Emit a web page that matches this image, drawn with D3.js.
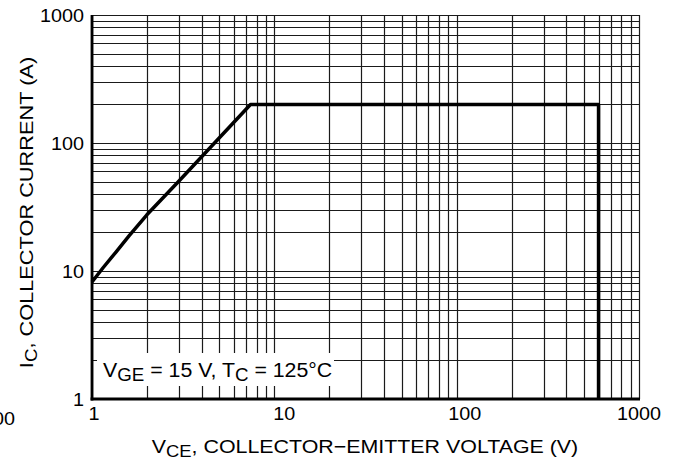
<!DOCTYPE html>
<html><head><meta charset="utf-8">
<script src="https://cdn.jsdelivr.net/npm/d3@7"></script>
<style>body{margin:0;background:#fff}svg{display:block}text{font-family:"Liberation Sans",Arial,sans-serif;fill:#000}</style>
</head><body><svg id="c" width="674" height="464"></svg>
<script>
const xTickValues = [1, 10, 100, 1000];
const yTickValues = [1, 10, 100, 1000];
const curveV = [1, 1.15, 1.35, 1.6, 2, 3, 7.4, 600, 600];
const curveI = [8.2, 10.6, 14, 18.9, 27.5, 50.5, 200, 200, 1];
const xTitle = ["V", "CE", ", COLLECTOR\u2212EMITTER VOLTAGE (V)"];
const yTitle = ["I", "C", ", COLLECTOR CURRENT (A)"];
const noteText = ["V", "GE", " = 15 V, T", "C", " = 125\u00B0C"];

const svg = d3.select("#c");
const L = 92, R = 639, T = 15, B = 399;
const x = d3.scaleLog().domain([1, 1000]).range([L, R]);
const y = d3.scaleLog().domain([1, 1000]).range([B, T]);

// grid
const g = svg.append("g");
g.selectAll("line.v").data(x.ticks()).join("line")
  .attr("x1", d => Math.round(x(d)) + 0.5).attr("x2", d => Math.round(x(d)) + 0.5)
  .attr("y1", T).attr("y2", B).attr("stroke", "#1a1a1a").attr("stroke-width", 1.2);
g.selectAll("line.h").data(y.ticks()).join("line")
  .attr("y1", d => Math.round(y(d)) + 0.5).attr("y2", d => Math.round(y(d)) + 0.5)
  .attr("x1", L).attr("x2", R).attr("stroke", "#1a1a1a").attr("stroke-width", 1.2);

// helper: horizontally widened text
function wtext(px, py, sx, size, anchor) {
  return svg.append("text")
    .attr("transform", `translate(${px},${py}) scale(${sx},1)`)
    .attr("font-size", size).attr("text-anchor", anchor);
}
function addParts(el, parts, size, subSize, subIdx) {
  parts.forEach((s, i) => {
    const sub = subIdx.includes(i);
    const prevSub = subIdx.includes(i - 1);
    el.append("tspan").text(s).attr("font-size", sub ? subSize : size)
      .attr("dy", sub ? 4 : (prevSub ? -4 : 0));
  });
}

// annotation box (covers grid)
svg.append("rect").attr("x", 97).attr("y", 353).attr("width", 237).attr("height", 33).attr("fill", "#fff");
const nt = wtext(103, 377, 1.04, 20.5, "start");
addParts(nt, noteText, 20.5, 18, [1, 3]);

// axes (thick left & bottom)
svg.append("line").attr("x1", L).attr("x2", L).attr("y1", T).attr("y2", B + 1.5).attr("stroke", "#000").attr("stroke-width", 2.8);
svg.append("line").attr("x1", L - 1.4).attr("x2", R + 1).attr("y1", B).attr("y2", B).attr("stroke", "#000").attr("stroke-width", 2.8);

// curve
const line = d3.line().x((d, i) => x(curveV[i])).y((d, i) => y(curveI[i]));
svg.append("path").attr("d", line(curveV)).attr("fill", "none")
  .attr("stroke", "#000").attr("stroke-width", 3.5).attr("stroke-linejoin", "round");

// tick labels
const xDx = [2, 10, 8, 0];
xTickValues.forEach((d, i) => wtext(x(d) + xDx[i], 420, 1.1, 18, "middle").text(d));
yTickValues.forEach(d => wtext(84, y(d) + 6.5, 1.1, 18, "end").text(d));

// clipped stray label at lower left
wtext(15, 425, 1.1, 18, "end").text(xTickValues[3]);

// titles
const xt = wtext(365, 453, 1.15, 18.6, "middle");
addParts(xt, xTitle, 18.6, 16, [1]);
const yt = svg.append("text").attr("transform", "translate(33,212.5) rotate(-90) scale(1.17,1)")
  .attr("text-anchor", "middle").attr("font-size", 18.6);
addParts(yt, yTitle, 18.6, 16, [1]);
</script></body></html>
